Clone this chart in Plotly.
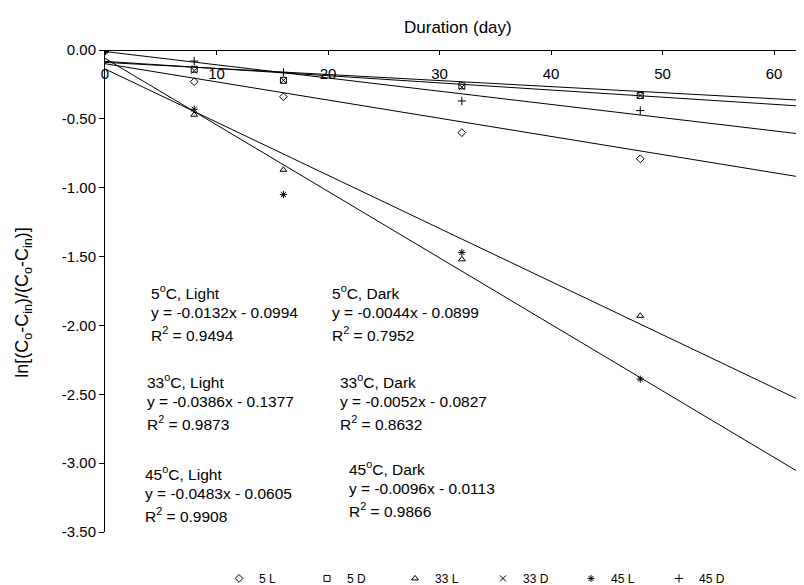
import plotly.graph_objects as go

# ---------------- data ----------------
days = [0, 8, 16, 32, 48]
l5 = [0, -0.23, -0.34, -0.60, -0.79]
d5 = [0, -0.14, -0.22, -0.26, -0.33]
l33 = [0, -0.47, -0.87, -1.52, -1.93]
d33 = [0, -0.15, -0.22, -0.27, -0.33]
l45 = [0, -0.43, -1.05, -1.47, -2.39]
d45 = [0, -0.08, -0.163, -0.37, -0.44]

series_names = ["5 L", "5 D", "33 L", "33 D", "45 L", "45 D"]
series_values = [l5, d5, l33, d33, l45, d45]
series_symbols = ["diamond-open", "square-open", "triangle-up-open",
                  "x-thin-open", "asterisk-open", "cross-thin-open"]

# trend line coefficients (slope, intercept) as printed on the chart
slopes = [-0.0132, -0.0044, -0.0386, -0.0052, -0.0483, -0.0096]
intercepts = [-0.0994, -0.0899, -0.1377, -0.0827, -0.0605, -0.0113]
trend_x = [0, 70]

labels = ["5<sup>o</sup>C, Light", "5<sup>o</sup>C, Dark",
          "33<sup>o</sup>C, Light", "33<sup>o</sup>C, Dark",
          "45<sup>o</sup>C, Light", "45<sup>o</sup>C, Dark"]
equations = ["y = -0.0132x - 0.0994", "y = -0.0044x - 0.0899",
             "y = -0.0386x - 0.1377", "y = -0.0052x - 0.0827",
             "y = -0.0483x - 0.0605", "y = -0.0096x - 0.0113"]
r2 = ["0.9494", "0.7952", "0.9873", "0.8632", "0.9908", "0.9866"]

y_tick_vals = [0, -0.5, -1.0, -1.5, -2.0, -2.5, -3.0, -3.5]
y_tick_text = ["0.00", "-0.50", "-1.00", "-1.50", "-2.00", "-2.50", "-3.00", "-3.50"]
x_tick_vals = [0, 10, 20, 30, 40, 50, 60]

# ---------------- layout geometry (pixels) ----------------
W, H = 804, 585
L, R, T, B = 97, 0, 42, 55
PW, PH = W - L - R, H - T - B
FONT = "Liberation Sans, Arial, sans-serif"


def px(xp):
    return (xp - L) / PW


def py(yp):
    return (H - B - yp) / PH


fig = go.Figure()

for s, b in zip(slopes, intercepts):
    fig.add_trace(go.Scatter(
        x=trend_x, y=[s * xv + b for xv in trend_x], mode="lines",
        line=dict(color="black", width=1), showlegend=False, hoverinfo="skip"))

for name, vals, sym in zip(series_names, series_values, series_symbols):
    fig.add_trace(go.Scatter(
        x=days, y=vals, mode="markers", name=name,
        marker=dict(symbol=sym, size=6, color="black",
                    line=dict(color="black", width=1))))

# text blocks: (left x px, y px of three lines)
block_pos = [(141, (287, 308, 330)), (322, (287, 308, 330)),
             (137, (377, 398, 420)), (330, (377, 398, 420)),
             (135, (470, 491, 513)), (339, (465, 486, 508))]
ann = []
for (bx, ys), lab, eq, r in zip(block_pos, labels, equations, r2):
    for txt, yy in zip([lab, eq, "R<sup>2</sup> = " + r], ys):
        ann.append(dict(x=px(bx), y=py(yy), xref="paper", yref="paper",
                        text=txt, showarrow=False, xanchor="left",
                        yanchor="middle", font=dict(size=15.5, color="black",
                                                    family=FONT)))

ann.append(dict(x=px(450), y=py(19), xref="paper", yref="paper",
                text="Duration (day)", showarrow=False, xanchor="center",
                yanchor="middle", font=dict(size=17, color="black", family=FONT)))
ann.append(dict(x=px(16), y=py(298), xref="paper", yref="paper",
                text="ln[(C<sub>o</sub>-C<sub>in</sub>)/(C<sub>o</sub>-C<sub>in</sub>)]",
                showarrow=False, textangle=-90, xanchor="center",
                yanchor="middle", font=dict(size=18, color="black", family=FONT)))

fig.update_layout(
    width=W, height=H,
    margin=dict(l=L, r=R, t=T, b=B, pad=0),
    paper_bgcolor="white", plot_bgcolor="white",
    font=dict(family=FONT, size=15, color="black"),
    annotations=ann,
    showlegend=True,
    legend=dict(orientation="h", x=px(211), xanchor="left",
                y=py(577), yanchor="middle",
                font=dict(size=12, family=FONT, color="black"),
                entrywidth=43, entrywidthmode="pixels",
                itemwidth=30, bgcolor="rgba(0,0,0,0)"),
    xaxis=dict(range=[0, 63.4], anchor="free", position=1, side="bottom",
               showline=True, linecolor="black", linewidth=1,
               ticks="outside", ticklen=4, tickcolor="black", tickwidth=1,
               tickvals=x_tick_vals, showgrid=False, zeroline=False,
               ticklabelstandoff=6,
               tickfont=dict(size=15, family=FONT, color="black")),
    yaxis=dict(range=[-3.5, 0], showline=True, linecolor="black", linewidth=1,
               ticks="outside", ticklen=5, tickcolor="black", tickwidth=1,
               tickvals=y_tick_vals, ticktext=y_tick_text,
               showgrid=False, zeroline=False,
               tickfont=dict(size=15, family=FONT, color="black")),
)

fig.write_html("out.html")
